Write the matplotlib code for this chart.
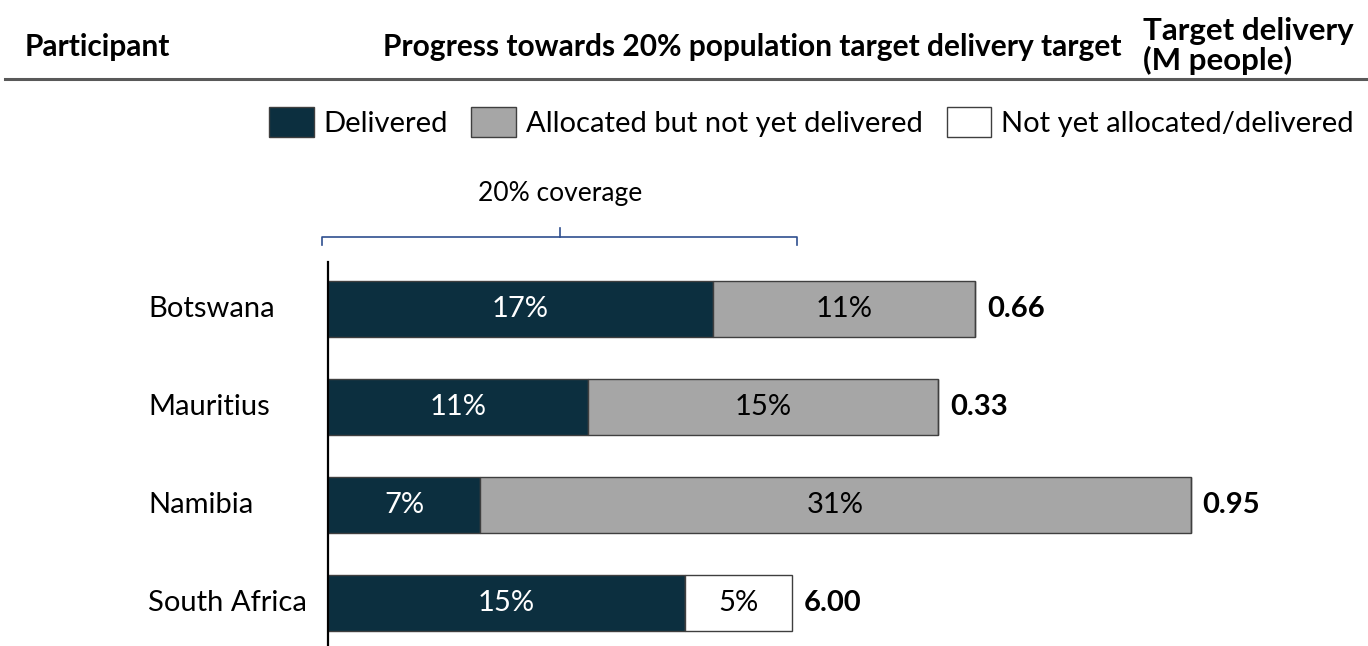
import matplotlib
matplotlib.use("Agg")
import matplotlib.pyplot as plt
from matplotlib.lines import Line2D
from matplotlib.patches import Patch
import matplotlib.transforms as mtransforms

plt.rcParams['font.family'] = ['Lato', 'DejaVu Sans']

# data (share of population, %)
participants = ['Botswana', 'Mauritius', 'Namibia', 'South Africa']
delivered = [16.6, 11.2, 6.55, 15.4]
allocated = [11.3, 15.1, 30.65, 0.0]
not_allocated = [0.0, 0.0, 0.0, 4.6]
target_m = [0.66, 0.33, 0.95, 6.00]
series_names = ['Delivered', 'Allocated but not yet delivered', 'Not yet allocated/delivered']

DARK = '#0C2F3F'
GREY = '#A6A6A6'
EDGE = '#3F3F3F'

W, H = 1368, 646
fig = plt.figure(figsize=(W / 100, H / 100), dpi=100)

# axes: zero line at x=328px, 23.2 px per percentage point
x0 = 328
ax = fig.add_axes([x0 / W, 0, 1 - x0 / W, (H - 262) / H])
ax.set_xlim(0, (W - x0) / 23.2)
ax.set_ylim(3.44, -0.48)

y = range(len(participants))
bh = 0.57
ax.barh(y, delivered, height=bh, color=DARK, edgecolor=EDGE, linewidth=1)
ax.barh(y, allocated, left=delivered, height=bh, color=GREY, edgecolor=EDGE, linewidth=1)
left3 = [d + a for d, a in zip(delivered, allocated)]
ax.barh(y, not_allocated, left=left3, height=bh, color='white', edgecolor=EDGE, linewidth=1)

fs = 21
lab_tr = mtransforms.blended_transform_factory(fig.transFigure, ax.transData)
for i in y:
    d, a, n = delivered[i], allocated[i], not_allocated[i]
    ax.text(d / 2, i, f"{d:.0f}%", color='white', ha='center', va='center', fontsize=fs)
    if a > 0:
        ax.text(d + a / 2, i, f"{a:.0f}%", color='black', ha='center', va='center', fontsize=fs)
    if n > 0:
        ax.text(d + a + n / 2, i, f"{n:.0f}%", color='black', ha='center', va='center', fontsize=fs)
    ax.text(d + a + n + 0.5, i, f"{target_m[i]:.2f}", color='black', ha='left', va='center',
            fontsize=fs, fontweight='bold')
    ax.text(148 / W, i, participants[i], ha='left', va='center', fontsize=fs, transform=lab_tr,
            clip_on=False)

for s in ['top', 'right', 'bottom']:
    ax.spines[s].set_visible(False)
ax.spines['left'].set_linewidth(1.6)
ax.spines['left'].set_color('black')
ax.set_xticks([])
ax.set_yticks([])

# brace over the 20% coverage span
tr = mtransforms.blended_transform_factory(ax.transData, fig.transFigure)
yb = 1 - 237 / H
ye = 1 - 245 / H
yt = 1 - 228 / H
bc = '#2F4F8F'
ax.plot([-0.25, -0.25, 20.2, 20.2], [ye, yb, yb, ye], color=bc, lw=1.2, transform=tr, clip_on=False)
ax.plot([10, 10], [yb, yt], color=bc, lw=1.2, transform=tr, clip_on=False)
ax.text(10, 1 - 193 / H, '20% coverage', ha='center', va='center', fontsize=19, transform=tr)

# legend
handles = [Patch(facecolor=DARK, edgecolor=EDGE, linewidth=1),
           Patch(facecolor=GREY, edgecolor=EDGE, linewidth=1),
           Patch(facecolor='white', edgecolor=EDGE, linewidth=1)]
fig.legend(handles, series_names, loc='center right', bbox_to_anchor=(1354 / W, 1 - 122 / H),
           ncol=3, frameon=False, fontsize=fs, handlelength=1.54, handleheight=1.2,
           handletextpad=0.34, columnspacing=0.8, borderaxespad=0, borderpad=0)

# header
hfs = 21.5
fig.text(25 / W, 1 - 47 / H, 'Participant', fontsize=hfs, fontweight='bold', va='center', ha='left')
fig.text(752 / W, 1 - 47 / H, 'Progress towards 20% population target delivery target', fontsize=hfs,
         fontweight='bold', va='center', ha='center')
fig.text(1143 / W, 1 - 46 / H, 'Target delivery\n(M people)', fontsize=22.5, fontweight='bold',
         va='center', ha='left', linespacing=1.05)
fig.add_artist(Line2D([5 / W, 1], [1 - 79 / H, 1 - 79 / H], color='#595959', lw=2.2))

fig.savefig('out.png', dpi=100)
